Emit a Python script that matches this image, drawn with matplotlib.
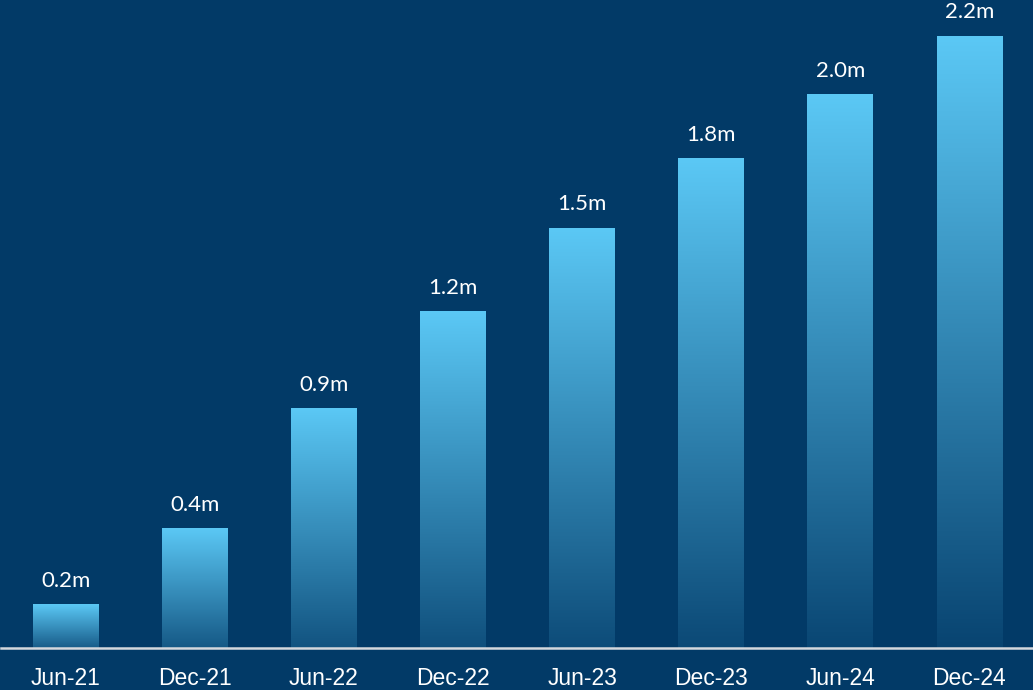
import matplotlib
matplotlib.use("Agg")
import matplotlib.pyplot as plt
import numpy as np
from matplotlib.colors import LinearSegmentedColormap, to_rgb

periods = ["Jun-21", "Dec-21", "Jun-22", "Dec-22", "Jun-23", "Dec-23", "Jun-24", "Dec-24"]
users_m = [0.155, 0.43, 0.86, 1.21, 1.51, 1.76, 1.99, 2.20]

BG = "#023a67"
TOP = "#5bc8f5"

fig = plt.figure(figsize=(10.33, 6.9), dpi=100, facecolor=BG)
ax = fig.add_axes([1 / 1033, 42 / 690, 1.0, 648 / 690])
ax.set_facecolor(BG)

grad = np.linspace(0, 1, 256).reshape(-1, 1)
width = 0.51
top_max = max(users_m)

bars = ax.bar(range(len(periods)), users_m, width=width, color="none", edgecolor="none")
for i, (b, v) in enumerate(zip(bars, users_m)):
    x0 = b.get_x()
    # bars fade towards the background; taller bars fade further
    f = 0.07 + 0.18 * (1 - v / top_max)
    bottom = tuple(np.array(to_rgb(BG)) * (1 - f) + np.array(to_rgb(TOP)) * f)
    cmap = LinearSegmentedColormap.from_list(f"fade{i}", [bottom, TOP])
    ax.imshow(grad, cmap=cmap, aspect="auto", origin="lower",
              extent=(x0, x0 + width, 0, v), zorder=2, interpolation="bicubic")
    ax.text(i, v + 0.05, f"{v:.1f}m", ha="center", va="bottom",
            color="white", fontsize=16, family=["Lato", "DejaVu Sans"])

ax.set_xlim(-0.5, len(periods) - 0.5)
ax.set_ylim(0, 648 / 278)
ax.set_xticks(range(len(periods)))
ax.set_xticklabels(periods, color="white", fontsize=16.5,
                   family=["Liberation Sans", "DejaVu Sans"])
ax.tick_params(axis="x", length=0, pad=14)
ax.set_yticks([])
for side in ("top", "left", "right"):
    ax.spines[side].set_visible(False)
ax.spines["bottom"].set_color("#d4d8dd")
ax.spines["bottom"].set_linewidth(1.8)

fig.savefig("out.png", dpi=100, facecolor=BG)
